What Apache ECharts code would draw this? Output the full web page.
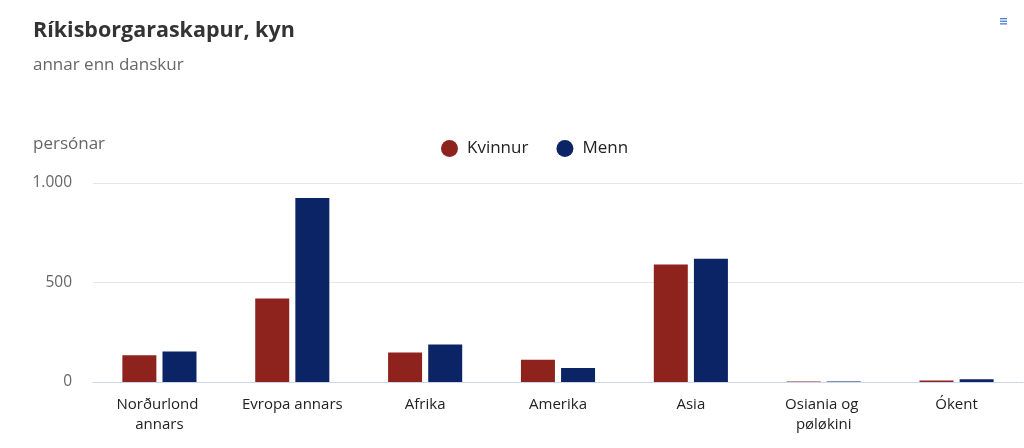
<!DOCTYPE html>
<html>
<head>
<meta charset="utf-8">
<script src="https://cdn.jsdelivr.net/npm/echarts@6/dist/echarts.min.js"></script>
<style>
html,body{margin:0;padding:0;background:#fff;}
#chart{width:1024px;height:448px;}
</style>
</head>
<body>
<div id="chart"></div>
<script>
const categories = ["Norðurlond annars", "Evropa annars", "Afrika", "Amerika", "Asia", "Osiania og pøløkini", "Ókent"];
const kvinnur = [134, 420, 148, 112, 590, 2, 8];
const menn = [153, 925, 188, 70, 619, 3, 14];
const yTicks = [0, 500, 1000];

const chart = echarts.init(document.getElementById('chart'));
const font = '"Open Sans", "Noto Sans", sans-serif';
chart.setOption({
  animation: false,
  textStyle: { fontFamily: font },
  title: [
    { text: 'Ríkisborgaraskapur, kyn', left: 28, top: 15,
      textStyle: { fontSize: 21.5, fontWeight: 'bold', color: '#333', fontFamily: font } },
    { text: 'annar enn danskur', left: 28, top: 52,
      textStyle: { fontSize: 17, fontWeight: 'normal', color: '#666', fontFamily: font } },
    { text: 'persónar', left: 28, top: 131,
      textStyle: { fontSize: 17, fontWeight: 'normal', color: '#666', fontFamily: font } }
  ],
  legend: {
    top: 135, left: 436,
    icon: 'circle', itemWidth: 17, itemHeight: 17, itemGap: 28,
    textStyle: { fontSize: 17, color: '#222', fontFamily: font, padding: [0, 0, 0, 4] },
    data: ['Kvinnur', 'Menn']
  },
  graphic: [
    { type: 'group', left: 1000, top: 18, children: [
      { type: 'rect', shape: { x: 0, y: 0, width: 7, height: 1.3 }, style: { fill: '#4a7dd0' } },
      { type: 'rect', shape: { x: 0, y: 2.6, width: 7, height: 1.3 }, style: { fill: '#4a7dd0' } },
      { type: 'rect', shape: { x: 0, y: 5.2, width: 7, height: 1.3 }, style: { fill: '#4a7dd0' } }
    ]}
  ],
  grid: { left: 93, right: 1, top: 183, bottom: 66, containLabel: false },
  xAxis: {
    type: 'category', data: categories,
    axisLine: { lineStyle: { color: '#ccd6eb' } },
    axisTick: { show: false },
    axisLabel: { fontSize: 15, color: '#222', fontFamily: font, margin: 13, width: 118, overflow: 'break', lineHeight: 20, interval: 0 }
  },
  yAxis: {
    type: 'value', min: 0, max: 1000, interval: 500,
    axisLine: { show: false }, axisTick: { show: false },
    splitLine: { lineStyle: { color: '#e6e6e6' } },
    axisLabel: { fontSize: 15.5, color: '#666', fontFamily: font, margin: 21,
      formatter: v => yTicks.includes(v) ? String(v).replace(/\B(?=(\d{3})+(?!\d))/g, '.') : '' }
  },
  series: [
    { name: 'Kvinnur', type: 'bar', data: kvinnur, barWidth: 34, barGap: '18%',
      itemStyle: { color: '#8e231e' } },
    { name: 'Menn', type: 'bar', data: menn, barWidth: 34, barGap: '18%',
      itemStyle: { color: '#0b2465' } }
  ]
});
</script>
</body>
</html>
